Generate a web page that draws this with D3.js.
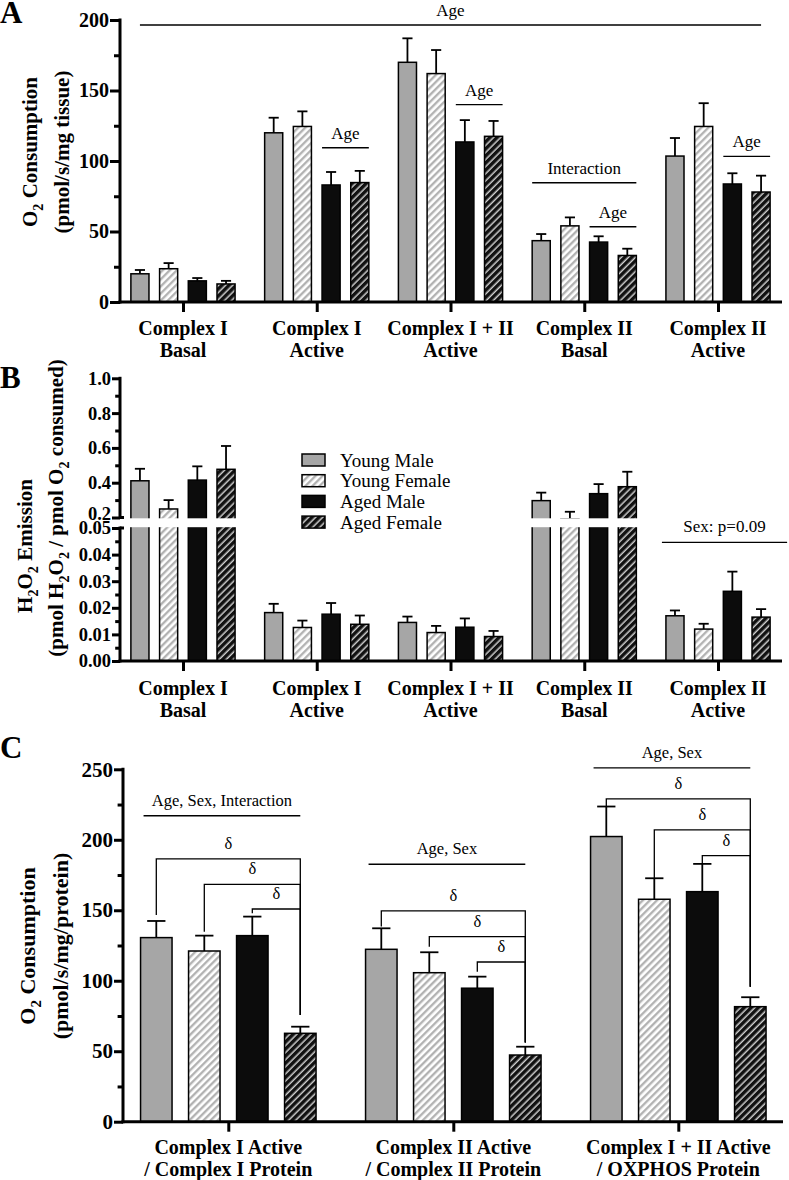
<!DOCTYPE html>
<html><head><meta charset="utf-8">
<script src="https://cdn.jsdelivr.net/npm/d3@7"></script>
<style>
body{margin:0;background:#fff}
svg{display:block}
text{font-family:"Liberation Serif","Times New Roman",serif;fill:#000}
</style>
</head><body>
<svg id="chart" width="789" height="1180"></svg>
<script>
// ---------------- DATA ----------------
const series = ["Young Male", "Young Female", "Aged Male", "Aged Female"];
const abGroups = ["Complex I\nBasal", "Complex I\nActive", "Complex I + II\nActive", "Complex II\nBasal", "Complex II\nActive"];
const cGroups = ["Complex I Active\n/ Complex I Protein", "Complex II Active\n/ Complex II Protein", "Complex I + II Active\n/ OXPHOS Protein"];

// Panel A: O2 consumption (pmol/s/mg tissue), rows = series, cols = groups
const aMeans = [
  [20, 120, 170, 43.5, 103.5],
  [23.6, 124.5, 162, 54, 124.5],
  [15, 83, 113.5, 42.5, 83.7],
  [12.8, 84.7, 117.5, 33, 78]
];
const aSems = [
  [2.7, 10.7, 17, 4.7, 12.8],
  [4, 10.7, 16.7, 6, 16.5],
  [2, 9.2, 15.5, 4.1, 7.6],
  [2.2, 8.3, 10.9, 4.8, 11.6]
];
const aTicks = [0, 50, 100, 150, 200];
const aMinorTicks = [25, 75, 125, 175];
const aAnnots = [
  {text: "Age", from: [0, 0, "c"], to: [4, 3, "c"], level: 196.5},
  {text: "Age", from: [1, 2, "l"], to: [1, 3, "r"], level: 109.4},
  {text: "Age", from: [2, 2, "l"], to: [2, 3, "r"], level: 140},
  {text: "Interaction", from: [3, 0, "l"], to: [3, 3, "r"], level: 84.6},
  {text: "Age", from: [3, 2, "l"], to: [3, 3, "r"], level: 53.4},
  {text: "Age", from: [4, 2, "l"], to: [4, 3, "r"], level: 103.3}
];

// Panel B: H2O2 emission
const bMeans = [
  [0.411, 0.0182, 0.0145, 0.297, 0.017],
  [0.249, 0.0126, 0.0107, 0.18, 0.012],
  [0.415, 0.0176, 0.0127, 0.337, 0.0262],
  [0.477, 0.0138, 0.0092, 0.377, 0.0165]
];
const bSems = [
  [0.069, 0.0033, 0.0022, 0.046, 0.002],
  [0.051, 0.0026, 0.0025, 0.053, 0.002],
  [0.079, 0.0042, 0.0033, 0.055, 0.0074],
  [0.134, 0.0033, 0.0021, 0.086, 0.003]
];
const bUpperTicks = [0.2, 0.4, 0.6, 0.8, 1.0];
const bUpperMinor = [0.3, 0.5, 0.7, 0.9];
const bLowerTicks = [0, 0.01, 0.02, 0.03, 0.04, 0.05];
const bLowerMinor = [0.005, 0.015, 0.025, 0.035, 0.045];
const bAnnots = [
  {text: "Sex: p=0.09", from: [4, 0, "l"], to: [4, 3, "r"], level: 0.0446}
];

// Panel C: O2 consumption normalised to protein
const cMeans = [
  [130.6, 122.3, 202.3],
  [121.1, 105.7, 157.8],
  [132, 94.7, 163.2],
  [62.7, 47.3, 81.6]
];
const cSems = [
  [11.8, 14.9, 21.3],
  [10.9, 14.5, 14.9],
  [13.5, 8.2, 19.7],
  [4.7, 5.9, 6.7]
];
const cTicks = [0, 50, 100, 150, 200, 250];
const cMinorTicks = [25, 75, 125, 175, 225];
const cAnnots = [
  {text: "Age, Sex, Interaction", from: [0, 0, "l"], to: [0, 3, "c"], level: 217.1},
  {text: "Age, Sex", from: [1, 0, "l"], to: [1, 3, "c"], level: 182.6},
  {text: "Age, Sex", from: [2, 0, "l"], to: [2, 3, "c"], level: 251}
];
const cBrackets = [
  {group: 0, from: 0, to: 3, level: 186.4, fromEnd: 146.7, toEnd: 75.7},
  {group: 0, from: 1, to: 3, level: 168.4, fromEnd: 134.8, toEnd: 75.7},
  {group: 0, from: 2, to: 3, level: 150.9, fromEnd: 147.9, toEnd: 75.7},
  {group: 1, from: 0, to: 3, level: 149.5, fromEnd: 138.4, toEnd: 56.1},
  {group: 1, from: 1, to: 3, level: 131.3, fromEnd: 124.2, toEnd: 56.1},
  {group: 1, from: 2, to: 3, level: 113.3, fromEnd: 106.4, toEnd: 56.1},
  {group: 2, from: 0, to: 3, level: 229, fromEnd: 223.5, toEnd: 95.8},
  {group: 2, from: 1, to: 3, level: 207, fromEnd: 172.7, toEnd: 95.8},
  {group: 2, from: 2, to: 3, level: 188.7, fromEnd: 182.8, toEnd: 95.8}
];

// ---------------- DRAWING ----------------
const svg = d3.select("#chart");
const defs = svg.append("defs");
function hatch(id, bg, fg, w) {
  const p = defs.append("pattern").attr("id", id).attr("patternUnits", "userSpaceOnUse")
    .attr("width", 5).attr("height", 5).attr("patternTransform", "rotate(45)");
  p.append("rect").attr("width", 5).attr("height", 5).attr("fill", bg);
  p.append("line").attr("x1", 1.2).attr("y1", -1).attr("x2", 1.2).attr("y2", 6)
    .attr("stroke", fg).attr("stroke-width", w);
}
hatch("hYF", "#ffffff", "#b0b0b0", 2.3);
hatch("hAF", "#111111", "#ffffff", 1.2);
const fills = ["#a6a6a6", "url(#hYF)", "#0c0c0c", "url(#hAF)"];

function rich(textSel, str, fs) {
  const parts = str.split(/(\{\d\})/);
  let shifted = false;
  parts.forEach(p => {
    if (!p) return;
    const m = p.match(/^\{(\d)\}$/);
    if (m) {
      textSel.append("tspan").text(m[1]).attr("font-size", fs * 0.68).attr("dy", shifted ? 0 : fs * 0.28);
      shifted = true;
    } else {
      textSel.append("tspan").text(p).attr("dy", shifted ? -fs * 0.28 : 0);
      shifted = false;
    }
  });
}

function drawPanel(cfg) {
  const g = svg.append("g");
  const x0 = d3.scalePoint().domain(cfg.groups).range(cfg.xRange).padding(0.5);
  const x1 = d3.scaleBand().domain(series).range([-cfg.half, cfg.half])
    .paddingInner(cfg.pIn).paddingOuter(cfg.pIn / 2);
  const y = cfg.y;
  const bw = x1.bandwidth();
  const rows = cfg.groups.flatMap((grp, gi) => series.map((s, si) => ({
    grp, s, si, gi, v: cfg.means[si][gi], e: cfg.sems[si][gi]
  })));
  const y0 = y(0);

  // bars
  g.selectAll("rect.bar").data(rows).join("rect").attr("class", "bar")
    .attr("x", d => x0(d.grp) + x1(d.s))
    .attr("y", d => y(d.v))
    .attr("width", bw)
    .attr("height", d => y0 - y(d.v))
    .attr("fill", d => fills[d.si])
    .attr("stroke", "#000").attr("stroke-width", 1.5);

  // error bars
  const cap = bw * cfg.capFrac;
  const eg = g.selectAll("g.err").data(rows).join("g").attr("class", "err")
    .attr("transform", d => `translate(${x0(d.grp) + x1(d.s) + bw / 2},0)`);
  eg.append("line").attr("x1", 0).attr("x2", 0)
    .attr("y1", d => y(d.v)).attr("y2", d => y(d.v + d.e))
    .attr("stroke", "#000").attr("stroke-width", 1.8);
  eg.append("line").attr("x1", -cap / 2).attr("x2", cap / 2)
    .attr("y1", d => y(d.v + d.e)).attr("y2", d => y(d.v + d.e))
    .attr("stroke", "#000").attr("stroke-width", 1.8);

  if (cfg.afterBars) cfg.afterBars(g, x0, x1, y);

  // y axes
  cfg.yAxes.forEach(ax => {
    const maj = g.append("g").attr("transform", `translate(${cfg.axisX},0)`)
      .call(d3.axisLeft(y).tickValues(ax.major).tickSize(cfg.tickLen).tickPadding(1).tickFormat(ax.fmt));
    maj.select(".domain").remove();
    maj.selectAll("line").attr("stroke", "#000").attr("stroke-width", 3);
    maj.selectAll("text").attr("font-size", cfg.tickFont).attr("font-weight", "bold")
      .attr("font-family", "Liberation Serif, Times New Roman, serif");
    if (ax.raiseFirst) maj.selectAll("text").filter(d => d === ax.major[0]).attr("dy", "0.12em");
    const mn = g.append("g").attr("transform", `translate(${cfg.axisX},0)`)
      .call(d3.axisLeft(y).tickValues(ax.minor).tickSize(cfg.tickLen * 0.6).tickFormat(""));
    mn.select(".domain").remove();
    mn.selectAll("line").attr("stroke", "#000").attr("stroke-width", 3);
    g.append("line").attr("x1", cfg.axisX).attr("x2", cfg.axisX)
      .attr("y1", y(ax.top) - 1.5).attr("y2", y(ax.bottom) + (ax.bottom === 0 ? 1.5 : 0))
      .attr("stroke", "#000").attr("stroke-width", 3);
    if (ax.stubs) ax.stubs.forEach(v => {
      g.append("line").attr("x1", cfg.axisX).attr("x2", cfg.axisX + 4)
        .attr("y1", y(v)).attr("y2", y(v)).attr("stroke", "#000").attr("stroke-width", 3);
    });
  });

  // x axis
  g.append("line").attr("x1", cfg.axisX - 1.5).attr("x2", cfg.xEnd)
    .attr("y1", y0).attr("y2", y0).attr("stroke", "#000").attr("stroke-width", 3);
  const xa = g.append("g").attr("transform", `translate(0,${y0})`)
    .call(d3.axisBottom(x0).tickSize(10).tickFormat(""));
  xa.select(".domain").remove();
  xa.selectAll("line").attr("stroke", "#000").attr("stroke-width", 3);

  // category labels
  cfg.groups.forEach(grp => {
    const t = g.append("text").attr("text-anchor", "middle").attr("font-size", 20).attr("font-weight", "bold");
    grp.split("\n").forEach((ln, i) => {
      t.append("tspan").attr("x", x0(grp)).attr("y", y0 + cfg.labelDy + i * 22).text(ln);
    });
  });

  // y titles
  cfg.titles.forEach(tt => {
    const t = g.append("text").attr("text-anchor", "middle").attr("font-weight", "bold")
      .attr("font-size", tt.fs)
      .attr("transform", `translate(${tt.x},${tt.y}) rotate(-90)`);
    rich(t, tt.text, tt.fs);
  });

  // panel letter
  g.append("text").attr("x", 0).attr("y", cfg.letterY).attr("font-size", 31).attr("font-weight", "bold").text(cfg.letter);

  // annotation lines
  function xpos(ref) {
    const [gi, si, side] = ref;
    const left = x0(cfg.groups[gi]) + x1(series[si]);
    return side === "l" ? left : side === "r" ? left + bw : left + bw / 2;
  }
  (cfg.annots || []).forEach(a => {
    const xa1 = xpos(a.from) + (cfg.annotPad ? cfg.annotPad[0] : 0);
    const xa2 = xpos(a.to) + (cfg.annotPad ? cfg.annotPad[1] : 0);
    const ly = y(a.level);
    g.append("line").attr("x1", xa1).attr("x2", xa2).attr("y1", ly).attr("y2", ly)
      .attr("stroke", "#000").attr("stroke-width", 1.4);
    g.append("text").attr("x", (xa1 + xa2) / 2).attr("y", ly - cfg.annotGap)
      .attr("text-anchor", "middle").attr("font-size", cfg.annotFont).text(a.text);
  });

  (cfg.brackets || []).forEach(b => {
    const grp = cfg.groups[b.group];
    const xa1 = x0(grp) + x1(series[b.from]) + bw / 2;
    const xa2 = x0(grp) + x1(series[b.to]) + bw / 2;
    const path = d3.path();
    path.moveTo(xa1, y(b.fromEnd));
    path.lineTo(xa1, y(b.level));
    path.lineTo(xa2, y(b.level));
    path.lineTo(xa2, y(b.toEnd));
    g.append("path").attr("d", path.toString()).attr("fill", "none")
      .attr("stroke", "#000").attr("stroke-width", 1.3);
    g.append("text").attr("x", (xa1 + xa2) / 2).attr("y", y(b.level) - 10)
      .attr("text-anchor", "middle").attr("font-size", 16.5).text("δ");
  });

  return {g, x0, x1, y};
}

// Panel A
drawPanel({
  groups: abGroups, means: aMeans, sems: aSems,
  xRange: [116.1, 784.9], half: 57.4, pIn: 0.37, capFrac: 0.56,
  y: d3.scaleLinear().domain([0, 200]).range([302, 20]),
  axisX: 120, xEnd: 782, tickLen: 10, tickFont: 20,
  yAxes: [{major: aTicks, minor: aMinorTicks, fmt: d3.format("d"), top: 200, bottom: 0}],
  labelDy: 33,
  titles: [{text: "O{2} Consumption", x: 37, y: 152, fs: 21},
           {text: "(pmol/s/mg tissue)", x: 69, y: 152, fs: 21}],
  letter: "A", letterY: 23,
  annots: aAnnots, annotGap: 9, annotFont: 17
});

// Panel B (broken axis: polylinear scale)
const yB = d3.scaleLinear().domain([0, 0.05, 0.2, 1.0]).range([661, 528, 517.5, 378.3]);
drawPanel({
  groups: abGroups, means: bMeans, sems: bSems,
  xRange: [116.1, 784.9], half: 57.4, pIn: 0.37, capFrac: 0.56,
  y: yB,
  axisX: 120, xEnd: 782, tickLen: 8, tickFont: 18.5,
  afterBars: (g) => {
    g.append("rect").attr("x", 122).attr("y", yB(0.2) + 0.8).attr("width", 667)
      .attr("height", yB(0.05) - yB(0.2) - 1.6).attr("fill", "#fff");
  },
  yAxes: [
    {major: bUpperTicks, minor: bUpperMinor, fmt: d3.format(".1f"), top: 1.0, bottom: 0.2, stubs: [0.2], raiseFirst: true},
    {major: bLowerTicks, minor: bLowerMinor, fmt: d3.format(".2f"), top: 0.05, bottom: 0, stubs: [0.05]}
  ],
  labelDy: 34,
  titles: [{text: "H{2}O{2} Emission", x: 32, y: 546, fs: 21},
           {text: "(pmol H{2}O{2} / pmol O{2} consumed)", x: 63, y: 508, fs: 21}],
  letter: "B", letterY: 388,
  annots: bAnnots, annotPad: [-4, 17], annotGap: 10, annotFont: 17
});

// Legend (panel B)
const leg = svg.append("g").attr("transform", "translate(302,460)");
series.forEach((s, i) => {
  const row = leg.append("g").attr("transform", `translate(0,${i * 20.7})`);
  row.append("rect").attr("x", 0).attr("y", -6).attr("width", 23).attr("height", 12)
    .attr("fill", fills[i]).attr("stroke", "#000").attr("stroke-width", 1.5);
  row.append("text").attr("x", 38).attr("y", 6.5).attr("font-size", 19).text(s);
});

// Panel C
drawPanel({
  groups: cGroups, means: cMeans, sems: cSems,
  xRange: [115.8, 790.8], half: 96, pIn: 0.344, capFrac: 0.58,
  y: d3.scaleLinear().domain([0, 250]).range([1121.7, 769.3]),
  axisX: 123, xEnd: 783, tickLen: 9, tickFont: 21,
  yAxes: [{major: cTicks, minor: cMinorTicks, fmt: d3.format("d"), top: 250, bottom: 0}],
  labelDy: 32,
  titles: [{text: "O{2} Consumption", x: 35, y: 946, fs: 22},
           {text: "(pmol/s/mg/protein)", x: 68, y: 946, fs: 22}],
  letter: "C", letterY: 758,
  annots: cAnnots, annotPad: [3, 0], annotGap: 10, annotFont: 16.5,
  brackets: cBrackets
});
</script>
</body></html>
